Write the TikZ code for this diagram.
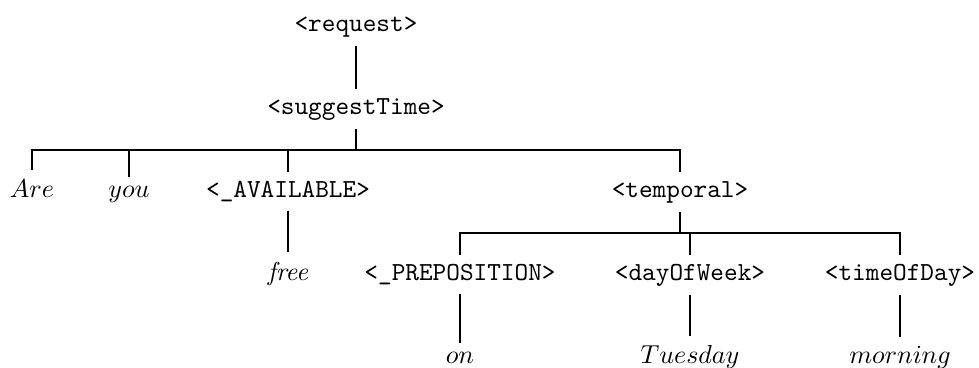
\documentclass[tikz,border=0pt]{standalone}
\usetikzlibrary{calc}
\tikzset{
  nt/.style={font=\ttfamily, anchor=base},
  wd/.style={anchor=base},
  br/.style={line width=0.8pt},
}
\begin{document}
\begin{tikzpicture}[x=0.3846pt, y=-0.3846pt]
  \useasboundingbox (0,0) rectangle (979,367);
  % levels sit on baselines 31, 114, 197, 280, 363
  \node[nt] (request) at (356,31) {<request>};
  \node[nt] (suggest) at (356,114) {<suggestTime>};
  \node[wd] (are) at (32,197) {$Are$};
  \node[wd] (you) at (129,197) {$you$};
  \node[nt] (avail) at (288,197) {<\_AVAILABLE>};
  \node[nt] (temporal) at (680,197) {<temporal>};
  \node[wd] (free) at (288,280) {\textit{free}};
  \node[nt] (prep) at (460,280) {<\_PREPOSITION>};
  \node[nt] (dow) at (690,280) {<dayOfWeek>};
  \node[nt] (tod) at (900,280) {<timeOfDay>};
  \node[wd] (on) at (460,363) {$on$};
  \node[wd] (tue) at (690,363) {$Tuesday$};
  \node[wd] (morn) at (900,363) {$morning$};
  % single links
  \foreach \p/\ch in {request/suggest,avail/free,prep/on,dow/tue,tod/morn}
    \draw[br] (\p.south) -- (\ch.north);
  % forks, bar half way down
  \coordinate (fork1) at ($(suggest.south)!0.5!(are.north)$);
  \foreach \ch in {are,you,avail,temporal}
    \draw[br] (suggest.south) -- (suggest.south |- fork1) -| (\ch.north);
  \coordinate (fork2) at ($(temporal.south)!0.5!(prep.north)$);
  \foreach \ch in {prep,dow,tod}
    \draw[br] (temporal.south) -- (temporal.south |- fork2) -| (\ch.north);
\end{tikzpicture}
\end{document}
